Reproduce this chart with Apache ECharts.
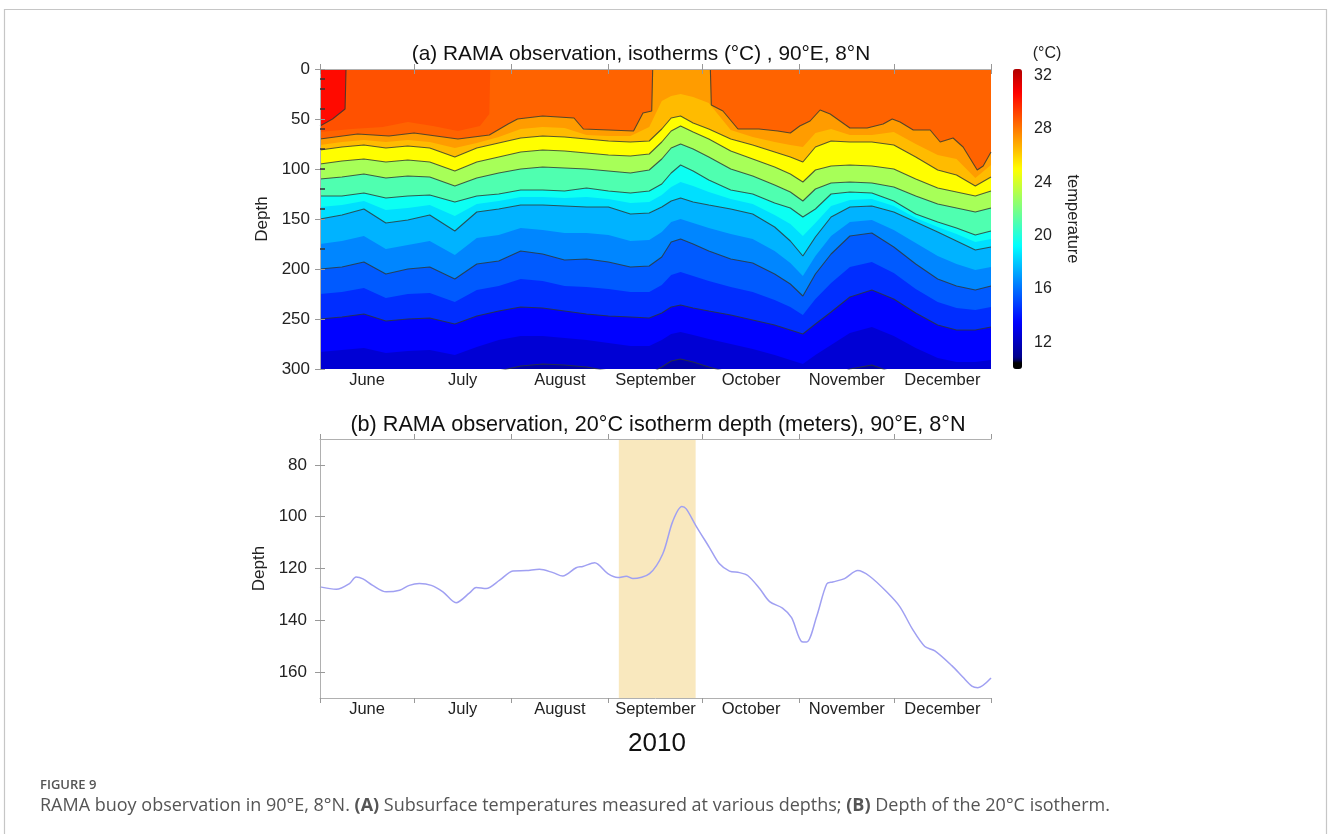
<!DOCTYPE html>
<html>
<head>
<meta charset="utf-8">
<script src="https://cdn.jsdelivr.net/npm/echarts@6/dist/echarts.min.js"></script>
<style>
html, body { margin: 0; padding: 0; background: #fff; }
#chart { width: 1328px; height: 834px; }
</style>
</head>
<body>
<div id="chart"></div>
<script>
// x axis is days since 1 June 2010
const monthNames = ["June", "July", "August", "September", "October", "November", "December"];
const monthStarts = [0, 30, 61, 92, 122, 153, 183, 214];
const sensorDepths = [10, 20, 40, 60, 80, 100, 120, 140, 180];
const depthTicksB = [80, 100, 120, 140, 160];
const colorTicks = [12, 16, 20, 24, 28, 32];

// isotherm depths (m)
const days = [0, 7, 14, 21, 28, 35, 43, 50, 57, 64, 71, 78, 85, 92, 99, 105, 109, 112, 115, 119,
    124, 131, 138, 145, 150, 154, 158, 163, 169, 176, 183, 190, 197, 203, 209, 214];

const iso30Days = [0, 4, 8, 8.3, 214];
const iso30 = [57, 50, 40, 0, 0];
const iso29Days = [0, 10, 20, 28, 36, 44, 51, 54, 54.3, 214];
const iso29 = [63, 60, 58, 53, 57, 62, 57, 45, 0, 0];
const iso28Days = [0, 12, 22, 30, 44, 54, 60, 63, 71, 81, 84, 100, 103, 105.8, 106.1, 124.5, 124.8, 128.5, 133.3, 140,
    146, 150, 153, 156.3, 159.5, 162.7, 169, 174.5, 179.6, 182.5, 185, 189.2, 194.6, 197.8, 201.9, 205.1, 209.6, 211.5, 214];
const iso28 = [70, 65, 67, 64, 70, 66, 55, 50, 47, 49, 60, 62, 44, 42, 0, 0, 36, 42, 60, 60,
    62, 64, 57, 52, 41, 45, 59, 59, 55, 50, 53, 61, 61, 73, 69, 78, 101, 97, 83];
const iso27 = [76, 73, 71, 73, 71, 73, 79, 74, 68, 60, 58, 59, 66, 67, 67, 58, 32, 27, 25, 28,
    34, 61, 68, 73, 76, 78, 64, 60, 66, 66, 63, 75, 86, 90, 109, 96];
const iso26 = [81, 78, 76, 79, 77, 79, 88, 79, 74, 69, 67, 68, 70, 72, 73, 72, 60, 49, 47, 54,
    60, 70, 76, 83, 88, 93, 78, 72, 73, 73, 76, 88, 101, 106, 117, 108];
const iso24 = [95, 92, 90, 93, 91, 93, 102, 93, 88, 83, 81, 82, 84, 86, 87, 85, 73, 62, 57, 63,
    70, 82, 90, 98, 105, 113, 101, 97, 96, 97, 100, 110, 119, 123, 127, 122];
const iso22 = [110, 108, 105, 109, 107, 108, 117, 109, 104, 100, 98, 99, 100, 102, 104, 101, 90, 79, 75, 80,
    88, 100, 107, 116, 123, 132, 120, 114, 113, 114, 118, 127, 135, 139, 143, 139];
const iso20 = [127, 127, 124, 129, 127, 126, 133, 127, 125, 121, 121, 122, 119, 122, 124, 122, 115, 104, 96, 102,
    111, 121, 125, 134, 139, 148, 140, 125, 123, 124, 132, 145, 153, 159, 166, 162];
const iso19 = [138, 136, 132, 141, 139, 136, 147, 135, 132, 128, 128, 129, 128, 130, 134, 133, 126, 118, 113, 117,
    123, 130, 135, 146, 155, 167, 154, 137, 131, 130, 137, 149, 158, 165, 173, 170];
const iso18 = [150, 146, 140, 154, 151, 146, 162, 143, 140, 136, 136, 137, 138, 138, 145, 144, 138, 132, 129, 133,
    136, 140, 145, 158, 172, 187, 168, 148, 138, 137, 143, 153, 163, 172, 181, 178];
const iso17 = [175, 172, 167, 180, 176, 172, 186, 169, 166, 159, 161, 164, 164, 166, 172, 171, 163, 153, 150, 154,
    159, 165, 170, 182, 194, 207, 187, 167, 153, 151, 161, 174, 187, 195, 201, 198];
const iso16 = [200, 198, 193, 205, 200, 198, 210, 195, 192, 182, 185, 191, 190, 193, 198, 197, 188, 173, 170, 175,
    182, 190, 194, 205, 215, 227, 205, 185, 167, 164, 178, 195, 210, 217, 221, 217];
const iso15 = [225, 223, 219, 229, 225, 224, 233, 221, 217, 210, 212, 217, 218, 220, 223, 223, 216, 206, 203, 207,
    212, 218, 223, 231, 238, 246, 230, 214, 198, 193, 204, 220, 233, 239, 241, 238];
const iso14 = [250, 248, 245, 252, 250, 249, 255, 247, 242, 238, 239, 242, 245, 247, 248, 249, 244, 238, 236, 239,
    242, 246, 251, 256, 261, 265, 255, 243, 228, 221, 230, 244, 256, 261, 261, 258];
const iso13 = [283, 281, 279, 284, 282, 281, 286, 278, 271, 267, 267, 269, 271, 274, 277, 277, 271, 265, 263, 266,
    270, 275, 280, 286, 291, 295, 286, 276, 264, 258, 267, 279, 289, 293, 293, 291];
const iso12 = [318, 316, 314, 318, 315, 314, 318, 310, 302, 297, 295, 296, 298, 302, 306, 305, 298, 292, 290, 293,
    298, 304, 310, 316, 322, 326, 318, 310, 300, 296, 304, 314, 322, 326, 326, 324];

// panel (b): 20°C isotherm depth
const d20Days = [0, 5.2, 9.4, 11.5, 13.7, 16.8, 21.1, 25.4, 28.5, 31.7, 35.5, 39.2, 43.4, 47.7, 49.8, 53, 57.3, 61.5, 65.8, 70,
    74.3, 77.4, 81.7, 83.8, 87.6, 91.8, 95, 97.7, 99.8, 105.1, 109.3, 112.5, 115.4, 116.8, 120, 124.2, 127.4, 130.6, 133.8, 136.4,
    140.2, 143.4, 147.5, 150.4, 153.6, 155.2, 158.4, 161.6, 163.5, 167.3, 171.5, 175.3, 180.7, 184.9, 189, 192.9, 196.1, 201.5, 205, 207.9,
    209.8, 214];
const d20Depth = [127.1, 128, 125.8, 123.3, 124, 126.5, 129, 128.4, 126.5, 125.8, 126.5, 129, 133.2, 129.4, 127.3, 127.7, 124.5, 121, 120.8, 120.3,
    121.6, 122.9, 119.7, 119.2, 117.8, 122, 123.5, 123, 123.9, 122, 114.4, 101.8, 96.1, 97, 103.7, 111.9, 118.2, 121, 121.6, 122.7,
    127.7, 132.8, 135.3, 139, 148.2, 148.4, 138.5, 126, 125.2, 123.9, 120.8, 123, 129, 134.7, 143.5, 150.1, 151.8, 157.5, 161.9, 165.4,
    166, 162.3];
const highlight = [95.3, 119.8];

const FONT = "Liberation Sans, Arial, sans-serif";
const monthMid = monthStarts.slice(0, -1).map((d, i) => (d + monthStarts[i + 1]) / 2);

function jet(T) {
    const t = (T - 10.6) / 23;
    const c = (v) => Math.round(255 * Math.max(0, Math.min(1, v)));
    return "rgb(" + c(1.5 - Math.abs(4 * t - 3)) + "," + c(1.5 - Math.abs(4 * t - 2)) + "," + c(1.5 - Math.abs(4 * t - 1)) + ")";
}

const zip = (xs, ys) => xs.map((x, i) => [x, ys[i]]);

// break contour lines where they run along the surface
function contour(xs, ys) {
    const out = [];
    xs.forEach((x, i) => {
        out.push([x, ys[i]]);
        if (ys[i] === 0 && ys[i + 1] === 0) out.push([x, null]);
    });
    return out;
}

// fill order: warm to cold, each fills down to 300 m
const isotherms = [
    { x: iso30Days, y: iso30, below: 28.9, line: true },
    { x: iso29Days, y: iso29, below: 28.5 },
    { x: iso28Days, y: iso28, below: 27.2, line: true },
    { x: days, y: iso27, below: 26.5 },
    { x: days, y: iso26, below: 25, line: true },
    { x: days, y: iso24, below: 23, line: true },
    { x: days, y: iso22, below: 21, line: true },
    { x: days, y: iso20, below: 19.5, line: true },
    { x: days, y: iso19, below: 18.5 },
    { x: days, y: iso18, below: 17.5, line: true },
    { x: days, y: iso17, below: 16.5 },
    { x: days, y: iso16, below: 15.5, line: true },
    { x: days, y: iso15, below: 14.5 },
    { x: days, y: iso14, below: 13.5, line: true },
    { x: days, y: iso13, below: 12.5 },
    { x: days, y: iso12, below: 11.5, line: true },
];

const series = [];
isotherms.forEach((iso) => {
    series.push({
        type: "line",
        xAxisIndex: 0,
        yAxisIndex: 0,
        data: zip(iso.x, iso.y),
        symbol: "none",
        silent: true,
        lineStyle: { width: 0 },
        areaStyle: { color: jet(iso.below), opacity: 1, origin: "end" },
        z: 2,
    });
});
isotherms.filter((iso) => iso.line).forEach((iso) => {
    series.push({
        type: "line",
        xAxisIndex: 0,
        yAxisIndex: 0,
        data: contour(iso.x, iso.y),
        symbol: "none",
        silent: true,
        lineStyle: { color: "rgba(45,55,50,0.8)", width: 1.1 },
        z: 3,
    });
});
series.push({
    type: "line",
    xAxisIndex: 2,
    yAxisIndex: 3,
    data: zip(d20Days, d20Depth),
    symbol: "none",
    smooth: 0.3,
    lineStyle: { color: "#a0a0f2", width: 1.5 },
    z: 3,
    markArea: {
        silent: true,
        itemStyle: { color: "#f9e8be" },
        data: [[{ xAxis: highlight[0] }, { xAxis: highlight[1] }]],
    },
});
series.push({ type: "scatter", xAxisIndex: 4, yAxisIndex: 5, data: [] });
const dummyIndex = series.length - 1;

const barColors = [];
for (let T = 10; T <= 32.5001; T += 0.25) barColors.push(T < 10.75 ? "#000000" : jet(T));

function monthAxis(grid, pos, labels) {
    return {
        gridIndex: grid,
        type: "value",
        position: pos,
        min: 0,
        max: 214,
        z: 5,
        axisLine: { show: true, lineStyle: { color: "#b0b0b0", width: 1 } },
        axisTick: { show: true, customValues: monthStarts, length: 5, lineStyle: { color: "#999" } },
        axisLabel: labels
            ? {
                  customValues: monthMid,
                  formatter: (v) => monthNames[monthMid.findIndex((m) => Math.abs(m - v) < 0.01)],
                  fontFamily: FONT,
                  fontSize: 16.5,
                  color: "#222",
                  margin: 3,
              }
            : { show: false },
        splitLine: { show: false },
    };
}

const labelStyle = { fontFamily: FONT, fontSize: 17, color: "#222" };

const option = {
    animation: false,
    backgroundColor: "#fff",
    grid: [
        { left: 320, top: 69, width: 671, height: 300, show: true, borderWidth: 0, backgroundColor: jet(30.5) },
        { left: 320, top: 439, width: 671, height: 259 },
        { left: 1013, top: 69, width: 9, height: 300 },
    ],
    xAxis: [
        monthAxis(0, "bottom", true),
        monthAxis(0, "top", false),
        monthAxis(1, "bottom", true),
        monthAxis(1, "top", false),
        { gridIndex: 2, type: "value", min: 0, max: 1, show: false },
    ],
    yAxis: [
        {
            gridIndex: 0,
            type: "value",
            inverse: true,
            min: 0,
            max: 300,
            interval: 50,
            position: "left",
            z: 5,
            name: "Depth",
            nameLocation: "middle",
            nameRotate: 90,
            nameGap: 42,
            nameTextStyle: labelStyle,
            axisLine: { show: true, lineStyle: { color: "#b0b0b0" } },
            axisTick: { show: true, length: 5, lineStyle: { color: "#999" } },
            axisLabel: Object.assign({ margin: 10 }, labelStyle),
            splitLine: { show: false },
        },
        {
            gridIndex: 0,
            type: "value",
            inverse: true,
            min: 0,
            max: 300,
            interval: 50,
            position: "right",
            z: 5,
            axisLine: { show: true, lineStyle: { color: "#b0b0b0" } },
            axisTick: { show: true, length: 5, lineStyle: { color: "#999" } },
            axisLabel: { show: false },
            splitLine: { show: false },
        },
        {
            gridIndex: 0,
            type: "value",
            inverse: true,
            min: 0,
            max: 300,
            position: "left",
            z: 6,
            axisLine: { show: false },
            axisTick: { show: true, inside: true, customValues: sensorDepths, length: 5, lineStyle: { color: "#333", width: 1.5 } },
            axisLabel: { show: false },
            splitLine: { show: false },
        },
        {
            gridIndex: 1,
            type: "value",
            inverse: true,
            min: 70,
            max: 170,
            position: "left",
            z: 5,
            name: "Depth",
            nameLocation: "middle",
            nameRotate: 90,
            nameGap: 51,
            nameTextStyle: labelStyle,
            axisLine: { show: true, lineStyle: { color: "#b0b0b0" } },
            axisTick: { show: true, customValues: depthTicksB, length: 5, lineStyle: { color: "#999" } },
            axisLabel: Object.assign({ margin: 13, customValues: depthTicksB }, labelStyle),
            splitLine: { show: false },
        },
        {
            gridIndex: 1,
            type: "value",
            inverse: true,
            min: 70,
            max: 170,
            position: "right",
            z: 5,
            axisLine: { show: true, lineStyle: { color: "#b0b0b0" } },
            axisTick: { show: true, customValues: depthTicksB, length: 5, lineStyle: { color: "#999" } },
            axisLabel: { show: false },
            splitLine: { show: false },
        },
        {
            gridIndex: 2,
            type: "value",
            min: 10,
            max: 32.5,
            position: "right",
            name: "temperature",
            nameLocation: "middle",
            nameRotate: -90,
            nameGap: 42,
            nameTextStyle: { fontFamily: FONT, fontSize: 16.5, color: "#222" },
            axisLine: { show: false },
            axisTick: { show: true, customValues: colorTicks, length: 6, lineStyle: { color: "#999" } },
            axisLabel: { customValues: colorTicks, margin: 12, fontFamily: FONT, fontSize: 16, color: "#222" },
            splitLine: { show: false },
        },
    ],
    visualMap: {
        type: "continuous",
        seriesIndex: dummyIndex,
        min: 10,
        max: 32.5,
        left: 1013,
        top: 69,
        itemWidth: 9,
        itemHeight: 300,
        padding: 0,
        calculable: false,
        inRange: { color: barColors },
    },
    graphic: [
        {
            type: "rect",
            shape: { x: 4.5, y: 9.5, width: 1322, height: 900 },
            style: { fill: "none", stroke: "#c6c6c6", lineWidth: 1.2 },
            silent: true,
        },
        {
            type: "text",
            style: { text: "(a) RAMA observation, isotherms (°C) , 90°E, 8°N", x: 641, y: 54, align: "center", verticalAlign: "middle", font: "20.8px " + FONT, fill: "#111" },
        },
        {
            type: "text",
            style: { text: "(°C)", x: 1047, y: 54, align: "center", verticalAlign: "middle", font: "16px " + FONT, fill: "#222" },
        },
        {
            type: "text",
            style: { text: "(b) RAMA observation, 20°C isotherm depth (meters), 90°E, 8°N", x: 658, y: 425, align: "center", verticalAlign: "middle", font: "21.6px " + FONT, fill: "#111" },
        },
        {
            type: "text",
            style: { text: "2010", x: 657, y: 744, align: "center", verticalAlign: "middle", font: "26px " + FONT, fill: "#111" },
        },
        {
            type: "text",
            style: { text: "FIGURE 9", x: 40, y: 785, align: "left", verticalAlign: "middle", font: "600 13px Open Sans, sans-serif", fill: "#555" },
        },
        {
            type: "text",
            style: {
                text: "RAMA buoy observation in 90°E, 8°N. {b|(A)} Subsurface temperatures measured at various depths; {b|(B)} Depth of the 20°C isotherm.",
                x: 40,
                y: 806,
                align: "left",
                verticalAlign: "middle",
                font: "18px Open Sans, sans-serif",
                fill: "#555",
                rich: { b: { fontWeight: "bold", fontFamily: "Open Sans, sans-serif", fontSize: 18, fill: "#555" } },
            },
        },
    ],
    series: series,
};

const chart = echarts.init(document.getElementById("chart"));
chart.setOption(option);
</script>
</body>
</html>
